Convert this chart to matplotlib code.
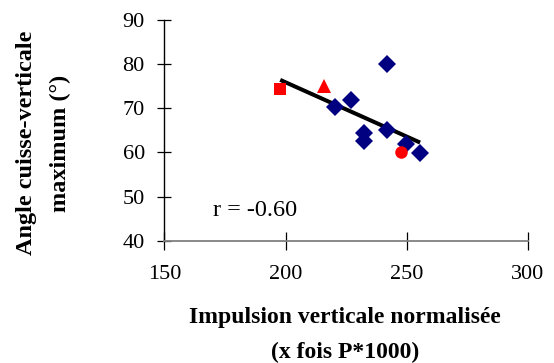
import matplotlib
matplotlib.use("Agg")
import matplotlib.pyplot as plt
import numpy as np

# Data
diamond_x = [220.5, 227.0, 241.8, 232.5, 232.5, 241.8, 249.7, 255.5]
diamond_y = [70.2, 71.9, 80.0, 64.4, 62.7, 65.1, 62.0, 59.8]
square_x = [197.8]
square_y = [74.3]
triangle_x = [216.0]
triangle_y = [75.0]
circle_x = [247.7]
circle_y = [60.1]
x_ticks = [150, 200, 250, 300]
y_ticks = [40, 50, 60, 70, 80, 90]
r_label = "r = -0.60"

plt.rcParams['font.family'] = ['Liberation Serif', 'DejaVu Serif']

fig = plt.figure(figsize=(5.54, 3.63), dpi=100)
ax = fig.add_axes([164.3/554, 1-240.7/363, (528-164.3)/554, (240.7-20)/363])

all_x = np.array(diamond_x + square_x + triangle_x + circle_x)
all_y = np.array(diamond_y + square_y + triangle_y + circle_y)
slope, intercept = np.polyfit(all_x, all_y, 1)
xs = np.array([all_x.min(), all_x.max()])
ax.plot(xs, slope*xs + intercept, color='black', lw=2.9, zorder=3, solid_capstyle='butt')

ax.plot(diamond_x, diamond_y, 'D', color='#000080', ms=9.5, mew=0, zorder=4)
ax.plot(square_x, square_y, 's', color='#ff0000', ms=8.5, mew=0, zorder=4)
ax.plot(triangle_x, triangle_y, '^', color='#ff0000', ms=10.5, mew=0, zorder=4)
ax.plot(circle_x, circle_y, 'o', color='#ff0000', ms=9, mew=0, zorder=4)

ax.set_xlim(150, 300)
ax.set_ylim(40, 90)
ax.set_xticks(x_ticks)
ax.set_yticks(y_ticks)
for s in ['top', 'right']:
    ax.spines[s].set_visible(False)
ax.spines['left'].set_color('black')
ax.spines['bottom'].set_color('#808080')
ax.spines['left'].set_linewidth(1.0)
ax.spines['bottom'].set_linewidth(1.3)
ax.tick_params(axis='both', direction='inout', width=0.9, colors='black', labelsize=16)
ax.tick_params(axis='x', length=13, pad=11)
ax.tick_params(axis='y', length=10, pad=9)

ax.text(170, 45.5, r_label, fontsize=17.5, ha='left', va='baseline')

fig.text(345/554, 1-318/363, "Impulsion verticale normalisée", fontsize=17, fontweight='bold',
         ha='center', va='center')
fig.text(345/554, 1-352/363, "(x fois P*1000)", fontsize=17, fontweight='bold',
         ha='center', va='center')
fig.text(27/554, 1-143/363, "Angle cuisse-verticale", fontsize=17.5, fontweight='bold',
         ha='center', va='center', rotation=90)
fig.text(60/554, 1-143/363, "maximum (°)", fontsize=17.5, fontweight='bold',
         ha='center', va='center', rotation=90)

fig.savefig("out.png", dpi=100)
